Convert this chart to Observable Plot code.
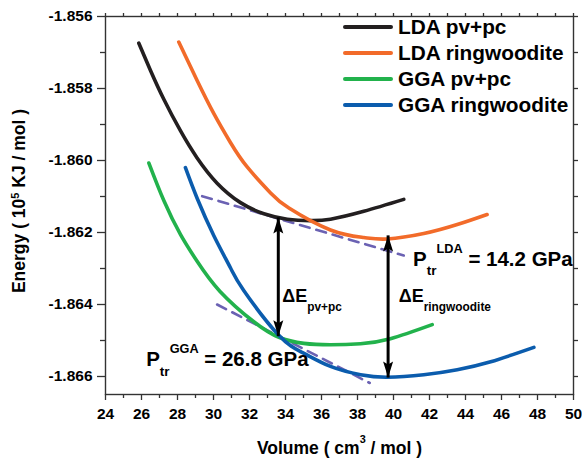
<!DOCTYPE html>
<html><head><meta charset="utf-8">
<script src="https://cdn.jsdelivr.net/npm/d3@7"></script>
<script src="https://cdn.jsdelivr.net/npm/@observablehq/plot@0.6"></script>
<style>
body{margin:0;background:#fff;}
#wrap{position:relative;width:582px;height:459px;font-family:"Liberation Sans",Arial,sans-serif;}
.legend{position:absolute;left:343px;top:14px;font-weight:bold;font-size:20.8px;line-height:26px;color:#000;}
.row{display:flex;align-items:center;height:26px;white-space:nowrap;}
.sw{width:50px;height:4px;margin-right:5px;border-radius:2px;}
.ytitle{position:absolute;left:19px;top:201px;transform:translate(-50%,-50%) rotate(-90deg);white-space:nowrap;font-weight:bold;font-size:17.5px;line-height:20px;color:#000;}
.ytitle sup{font-size:11px;vertical-align:0.55em;line-height:0;}
</style></head><body><div id="wrap"></div><script>
// ---- data ----
const seriesNames = ["LDA pv+pc", "LDA ringwoodite", "GGA pv+pc", "GGA ringwoodite"];
const seriesColors = ["#231f20", "#f26b2a", "#22b24c", "#0b5cad"];

const ldaPvVol = [25.85, 26.5, 27.24, 28.17, 29.09, 30.2, 31.5, 32.8, 34.1, 35.4, 36.5, 38.35, 40.57];
const ldaPvE = [-1.85674, -1.8575, -1.8583, -1.85918, -1.85993, -1.86063, -1.86117, -1.86148, -1.86163, -1.86167, -1.86163, -1.86141, -1.86108];

const ldaRwVol = [28.07, 29.09, 30.02, 30.94, 31.87, 33.17, 34.19, 36.5, 38.35, 39.65, 41.68, 43.54, 45.2];
const ldaRwE = [-1.85671, -1.85778, -1.8587, -1.8595, -1.86018, -1.8609, -1.86132, -1.86193, -1.86214, -1.86218, -1.86203, -1.86178, -1.8615];

const ggaPvVol = [26.41, 27.24, 28.17, 29.09, 30.35, 32.24, 33.63, 35.02, 36.5, 38.17, 39.83, 42.15];
const ggaPvE = [-1.86007, -1.86111, -1.86206, -1.8628, -1.86363, -1.86448, -1.86491, -1.86508, -1.86512, -1.86509, -1.86495, -1.86456];

const ggaRwVol = [28.44, 29.09, 30.02, 30.94, 31.68, 33.6, 35.0, 36.5, 38.17, 39.65, 41.68, 43.54, 45.4, 47.8];
const ggaRwE = [-1.8602, -1.86105, -1.86209, -1.86298, -1.86361, -1.86484, -1.86535, -1.86572, -1.86595, -1.86602, -1.86595, -1.86581, -1.86559, -1.86519];

// common tangents (dashed)
const ldaTangentVol = [29.37, 40.57];
const ldaTangentE = [-1.86099, -1.86264];
const ggaTangentVol = [30.2, 38.68];
const ggaTangentE = [-1.8640, -1.86618];

// energy-difference arrows
const arrowVol = [33.6, 39.7];
const arrowTopE = [-1.86158, -1.86208];
const arrowBottomE = [-1.86488, -1.86603];

// annotation labels (anchor in data units)
const deltaLabels = ["ΔE_{pv+pc}", "ΔE_{ringwoodite}"];
const deltaVol = [33.82, 40.29];
const deltaE = [-1.86394, -1.86394];
const ptrLabels = ["P_{tr}^{LDA} = 14.2 GPa", "P_{tr}^{GGA} = 26.8 GPa"];
const ptrVol = [41.09, 26.26];
const ptrE = [-1.86292, -1.86571];

// axes
const xMajorTicks = [24, 26, 28, 30, 32, 34, 36, 38, 40, 42, 44, 46, 48, 50];
const xMinorTicks = [25, 27, 29, 31, 33, 35, 37, 39, 41, 43, 45, 47, 49];
const yMajorTicks = [-1.856, -1.858, -1.860, -1.862, -1.864, -1.866];
const yMinorTicks = [-1.857, -1.859, -1.861, -1.863, -1.865];
const xTitle = "Volume ( cm^{3} / mol )";
const yTitle = "Energy ( 10^{5} KJ / mol )";

// ---- build tables ----
const vols = [ldaPvVol, ldaRwVol, ggaPvVol, ggaRwVol];
const ens = [ldaPvE, ldaRwE, ggaPvE, ggaRwE];
const curves = seriesNames.flatMap((s, i) => vols[i].map((v, j) => ({series: s, v, e: ens[i][j]})));
const tangents = [
  ...ldaTangentVol.map((v, j) => ({g: "LDA", v, e: ldaTangentE[j]})),
  ...ggaTangentVol.map((v, j) => ({g: "GGA", v, e: ggaTangentE[j]}))
];
const arrows = arrowVol.map((v, i) => ({v, top: arrowTopE[i], bottom: arrowBottomE[i]}));
const deltas = deltaLabels.map((t, i) => ({t, v: deltaVol[i], e: deltaE[i]}));
const ptrs = ptrLabels.map((t, i) => ({t, v: ptrVol[i], e: ptrE[i]}));

const headUp = {draw(c) { c.moveTo(0, 0); c.lineTo(5, 16); c.lineTo(0, 13); c.lineTo(-5, 16); c.closePath(); }};
const headDown = {draw(c) { c.moveTo(0, 0); c.lineTo(5, -16); c.lineTo(0, -13); c.lineTo(-5, -16); c.closePath(); }};

const axisColor = "#333";
const plot = Plot.plot({
  width: 582, height: 459,
  marginLeft: 105, marginRight: 9, marginTop: 16, marginBottom: 65,
  style: {fontFamily: "'Liberation Sans', Arial, sans-serif", fontWeight: "bold", background: "#fff", color: "#000"},
  x: {domain: [24, 50]},
  y: {domain: [-1.8665, -1.856]},
  marks: [
    Plot.line(tangents, {x: "v", y: "e", z: "g", stroke: "#6b62b3", strokeWidth: 2.6, strokeDasharray: "10,7"}),
    Plot.line(curves, {x: "v", y: "e", z: "series", stroke: "series", strokeWidth: 3.6, curve: "natural", strokeLinecap: "round"}),
    Plot.link(arrows, {x1: "v", x2: "v", y1: "top", y2: "bottom", stroke: "#000", strokeWidth: 3, insetStart: 10, insetEnd: 10}),
    Plot.dot(arrows, {x: "v", y: "top", symbol: headUp, r: 5, fill: "#000", stroke: "none"}),
    Plot.dot(arrows, {x: "v", y: "bottom", symbol: headDown, r: 5, fill: "#000", stroke: "none"}),
    Plot.text(deltas, {x: "v", y: "e", text: "t", textAnchor: "start", lineAnchor: "bottom", fontSize: 18, fontWeight: "bold", fill: "#000"}),
    Plot.text(ptrs, {x: "v", y: "e", text: "t", textAnchor: "start", lineAnchor: "bottom", fontSize: 20.5, fontWeight: "bold", fill: "#000"}),
    Plot.frame({stroke: axisColor, strokeWidth: 1.4}),
    Plot.axisX({ticks: xMajorTicks, tickSize: 6, tickPadding: 7, fontSize: 15.5, fontWeight: "bold", stroke: axisColor, strokeWidth: 1.3, label: null, tickFormat: d => String(d)}),
    Plot.axisX({ticks: xMinorTicks, tickSize: 4, text: null, stroke: axisColor, strokeWidth: 1.3, label: null}),
    Plot.axisX({anchor: "top", ticks: [...xMajorTicks, ...xMinorTicks], tickSize: 4, text: null, stroke: axisColor, strokeWidth: 1.3, label: null}),
    Plot.axisY({ticks: yMajorTicks, tickSize: 8, tickPadding: 5, fontSize: 15.5, fontWeight: "bold", stroke: axisColor, strokeWidth: 1.3, label: null, tickFormat: d => d.toFixed(3)}),
    Plot.axisY({ticks: yMinorTicks, tickSize: 5, text: null, stroke: axisColor, strokeWidth: 1.3, label: null}),
    Plot.axisY({anchor: "right", ticks: [...yMajorTicks, ...yMinorTicks], tickSize: 4, text: null, stroke: axisColor, strokeWidth: 1.3, label: null}),
    Plot.text([xTitle], {frameAnchor: "bottom", dy: 59, fontSize: 17.5, fontWeight: "bold", fill: "#000", textAnchor: "middle"})
  ],
  color: {domain: seriesNames, range: seriesColors}
});

const wrap = document.getElementById("wrap");
wrap.appendChild(plot);

// rich text: _{sub} and ^{sup}
d3.select(plot).selectAll("text").each(function() {
  const t = this.textContent;
  if (!/[_^]\{/.test(t)) return;
  const base = parseFloat(getComputedStyle(this).fontSize);
  const tokens = [...t.matchAll(/([_^])\{([^}]*)\}|([^_^]+)/g)];
  this.textContent = "";
  let cur = 0;
  for (const m of tokens) {
    let target = 0, size = base, s = m[3];
    if (m[1] === "_") { target = 0.48 * base; size = 0.66 * base; s = m[2]; }
    else if (m[1] === "^") { target = -0.62 * base; size = 0.62 * base; s = m[2]; }
    const ts = document.createElementNS("http://www.w3.org/2000/svg", "tspan");
    ts.setAttribute("dy", target - cur);
    ts.setAttribute("font-size", size);
    ts.textContent = s;
    this.appendChild(ts);
    cur = target;
  }
});

// y-axis title (rotated, left of the frame)
const yt = document.createElement("div");
yt.className = "ytitle";
yt.innerHTML = yTitle.replace(/\^\{([^}]*)\}/g, "<sup>$1</sup>");
wrap.appendChild(yt);

// legend (inside the plot, top right)
const legend = document.createElement("div");
legend.className = "legend";
seriesNames.forEach((s, i) => {
  const row = document.createElement("div");
  row.className = "row";
  const sw = document.createElement("span");
  sw.className = "sw";
  sw.style.background = seriesColors[i];
  const lab = document.createElement("span");
  lab.textContent = s;
  row.appendChild(sw); row.appendChild(lab);
  legend.appendChild(row);
});
wrap.appendChild(legend);
</script></body></html>
